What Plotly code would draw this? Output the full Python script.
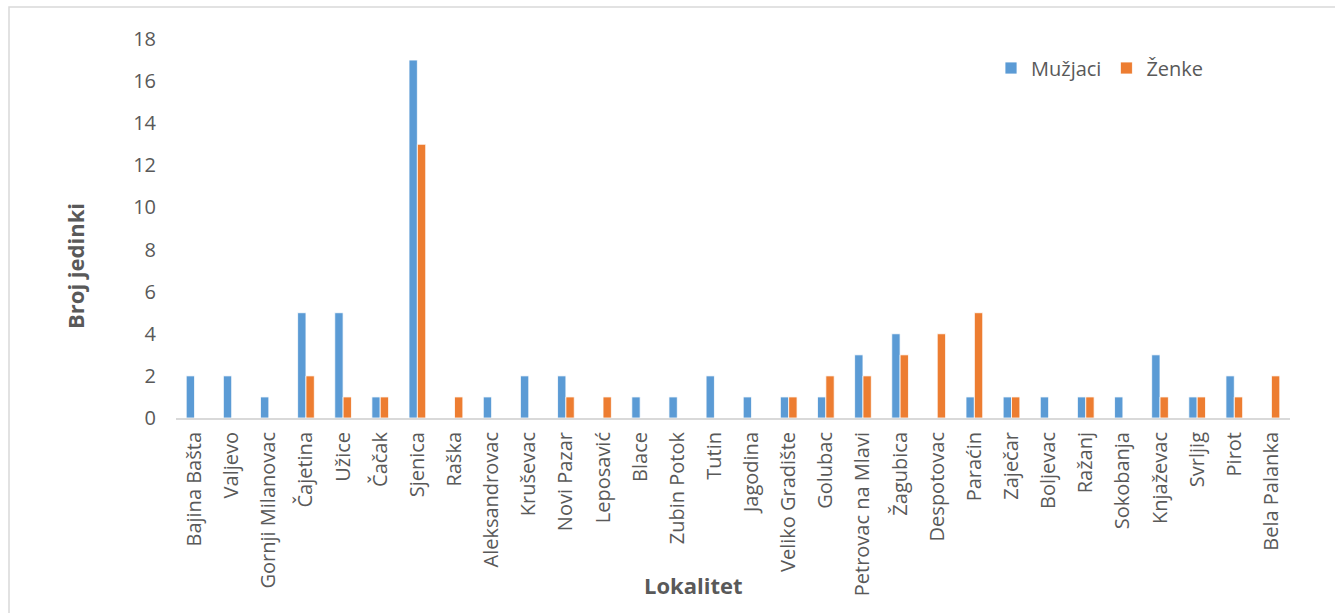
import plotly.graph_objects as go

categories = ["Bajina Bašta", "Valjevo", "Gornji Milanovac", "Čajetina", "Užice", "Čačak",
              "Sjenica", "Raška", "Aleksandrovac", "Kruševac", "Novi Pazar", "Leposavić",
              "Blace", "Zubin Potok", "Tutin", "Jagodina", "Veliko Gradište", "Golubac",
              "Petrovac na Mlavi", "Žagubica", "Despotovac", "Paraćin", "Zaječar", "Boljevac",
              "Ražanj", "Sokobanja", "Knjaževac", "Svrljig", "Pirot", "Bela Palanka"]
muzjaci = [2, 2, 1, 5, 5, 1, 17, 0, 1, 2, 2, 0, 1, 1, 2, 1, 1, 1, 3, 4, 0, 1, 1, 1, 1, 1, 3, 1, 2, 0]
zenke = [0, 0, 0, 2, 1, 1, 13, 1, 0, 0, 1, 1, 0, 0, 0, 0, 1, 2, 2, 3, 4, 5, 1, 0, 1, 0, 1, 1, 1, 2]
y_ticks = [0, 2, 4, 6, 8, 10, 12, 14, 16, 18]

FONT = "Open Sans"
GRAY = "#595959"

W, H = 1335, 613
L, R, T, B = 176, 1290, 39, 418

fig = go.Figure()
fig.add_trace(go.Bar(x=categories, y=muzjaci, name="Mužjaci",
                     marker=dict(color="#5B9BD5", line=dict(color="white", width=0.8))))
fig.add_trace(go.Bar(x=categories, y=zenke, name="Ženke",
                     marker=dict(color="#ED7D31", line=dict(color="white", width=0.8))))

def px2paper_x(px):
    return (px - L) / (R - L)

def px2paper_y(py):
    return (B - py) / (B - T)

fig.update_layout(
    width=W, height=H,
    margin=dict(l=L, r=W - R, t=T, b=H - B),
    paper_bgcolor="white", plot_bgcolor="white",
    barmode="group", bargap=0.55, bargroupgap=0.0,
    font=dict(family=FONT, color=GRAY),
    showlegend=True,
    legend=dict(orientation="h", x=px2paper_x(991), y=px2paper_y(68), yanchor="middle",
                xanchor="left", font=dict(size=20, color=GRAY, family=FONT),
                bgcolor="rgba(0,0,0,0)", itemwidth=30, traceorder="normal"),
    xaxis=dict(showgrid=False, showline=True, linecolor="#D9D9D9", linewidth=2,
               tickangle=-90, tickfont=dict(size=20, color=GRAY, family=FONT),
               ticks="", zeroline=False, ticklabelstandoff=4),
    yaxis=dict(range=[0, 18], tickvals=y_ticks, showgrid=False, showline=False,
               zeroline=False, tickfont=dict(size=20, color=GRAY, family=FONT),
               ticks="", ticklabelstandoff=19),
)

# chart area border
fig.add_shape(type="rect", xref="paper", yref="paper",
              x0=px2paper_x(9), x1=px2paper_x(1345), y0=px2paper_y(625), y1=px2paper_y(7),
              line=dict(color="#D9D9D9", width=1.5), fillcolor="rgba(0,0,0,0)", layer="below")

fig.add_annotation(text="<b>Broj jedinki</b>", xref="paper", yref="paper",
                   x=px2paper_x(75), y=px2paper_y(266), textangle=-90, showarrow=False,
                   font=dict(size=22, color=GRAY, family=FONT), xanchor="center", yanchor="middle")
fig.add_annotation(text="<b>Lokalitet</b>", xref="paper", yref="paper",
                   x=px2paper_x(693), y=px2paper_y(585), showarrow=False,
                   font=dict(size=22, color=GRAY, family=FONT), xanchor="center", yanchor="middle")

fig.write_html("out.html")
